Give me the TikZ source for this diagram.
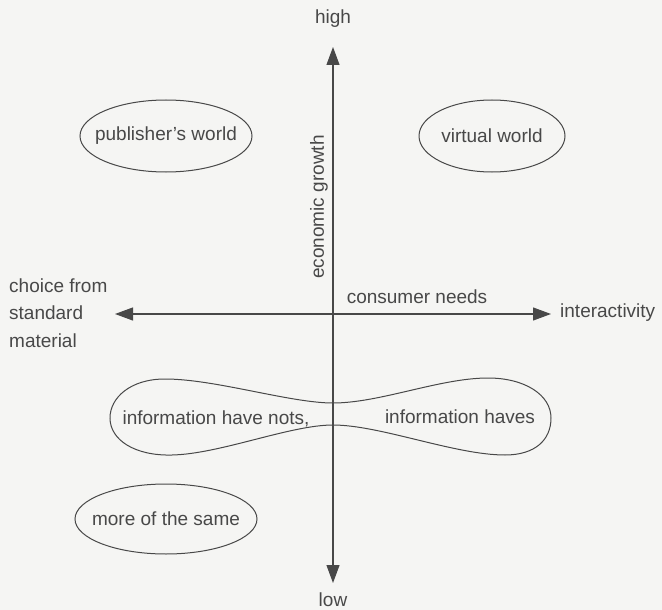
\documentclass[tikz,border=0pt]{standalone}
\usepackage{fontspec}
\setmainfont{Liberation Sans}
\usetikzlibrary{arrows.meta,shapes.geometric}
\definecolor{ink}{RGB}{72,72,72}
\definecolor{paper}{RGB}{245,245,243}
\begin{document}
\begin{tikzpicture}[x=1pt,y=-1pt,
  every node/.style={text=ink,font=\fontsize{19}{22}\selectfont,inner sep=0pt},
  axis/.style={draw=ink,line width=1.1pt,{Triangle[length=18pt,width=13pt]}-{Triangle[length=18pt,width=13pt]}},
  blob/.style={draw=ink,line width=1pt},
  region/.style={ellipse,draw=ink,line width=1pt,minimum height=72pt}]
  % canvas
  \fill[paper] (0,0) rectangle (662,610);
  \useasboundingbox (0,0) rectangle (662,610);

  % axis end labels
  \node (high) at (333,19) {high};
  \node (low) at (333,600) {low};
  \node[anchor=west] (inter) at (560,313) {interactivity};
  \node[anchor=west,align=left,font=\fontsize{19}{27.5}\selectfont] (choice) at (9,313) {choice from\\standard\\material};

  % axes
  \coordinate (ytop) at (333,47);
  \coordinate (ybot) at (333,583);
  \coordinate (xl) at (115,314);
  \coordinate (xr) at (551,314);
  \draw[axis] (ybot) -- (ytop);
  \draw[axis] (xl) -- (xr);

  % axis captions
  \node[rotate=90] (growth) at (319,207) {economic growth};
  \node (needs) at (417,297) {consumer needs};

  % quadrant regions: fixed-size outlines with their captions on top
  \node[region,minimum width=172pt] (pub) at (166,136) {};
  \node (pubtxt) at (pub.center) {publisher's world};
  \node[region,minimum width=146pt] (virt) at (492,136) {};
  \node (virttxt) at (virt.center) {virtual world};
  \node[region,minimum width=182pt,minimum height=70pt] (same) at (166,519) {};
  \node (sametxt) at (same.center) {more of the same};

  % two-lobed region straddling the vertical axis
  \draw[blob] (333,403)
    .. controls (290,403) and (215,379) .. (165,379)
    .. controls (130,379) and (110,398) .. (110,418)
    .. controls (110,440) and (135,456) .. (172,455)
    .. controls (220,454) and (290,425) .. (333,425)
    .. controls (380,425) and (455,455) .. (505,455)
    .. controls (535,455) and (551,440) .. (551,418)
    .. controls (551,395) and (525,378) .. (488,378)
    .. controls (440,378) and (380,403) .. (333,403) -- cycle;
  \node (nots) at (216,419) {information have nots,};
  \node (haves) at (460,417) {information haves};
\end{tikzpicture}
\end{document}
